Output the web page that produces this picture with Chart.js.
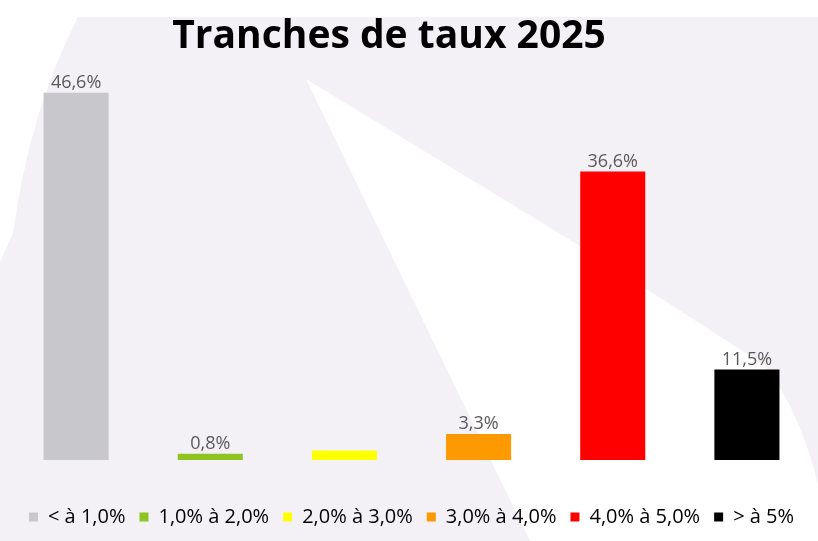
<!DOCTYPE html>
<html>
<head>
<meta charset="utf-8">
<script src="https://cdn.jsdelivr.net/npm/chart.js@4/dist/chart.umd.min.js"></script>
<style>
  html, body { margin: 0; padding: 0; background: #fff; }
  #wrap { width: 818px; height: 541px; }
</style>
</head>
<body>
<div id="wrap"><canvas id="chart" width="818" height="541"></canvas></div>
<script>
const chartTitle = "Tranches de taux 2025";
const categories = ["< à 1,0%", "1,0% à 2,0%", "2,0% à 3,0%", "3,0% à 4,0%", "4,0% à 5,0%", "> à 5%"];
const values = [46.6, 0.8, 1.2, 3.3, 36.6, 11.5];
const valueLabels = ["46,6%", "0,8%", "", "3,3%", "36,6%", "11,5%"];
const barColors = ["#c8c7cc", "#8fc31f", "#ffff00", "#ff9900", "#ff0000", "#000000"];

// lavender backdrop with the pale white wedges of the slide
const backdrop = {
  id: "backdrop",
  beforeDraw(chart) {
    const c = chart.ctx, w = chart.width, h = chart.height;
    c.save();
    c.fillStyle = "#f4f1f6";
    c.fillRect(0, 0, w, h);
    c.fillStyle = "#ffffff";
    c.fillRect(0, 0, w, 17);
    // big wedge
    c.beginPath();
    c.moveTo(306, 79);
    c.lineTo(580, 246);
    c.lineTo(764, 365);
    c.quadraticCurveTo(800, 410, 818, 485);
    c.lineTo(818, 541);
    c.lineTo(530, 541);
    c.closePath();
    c.fill();
    // left sliver
    c.beginPath();
    c.moveTo(0, 17);
    c.lineTo(78, 17);
    c.quadraticCurveTo(30, 110, 13, 233);
    c.lineTo(0, 262);
    c.closePath();
    c.fill();
    c.restore();
  }
};

// title and value labels
const texts = {
  id: "texts",
  afterDatasetsDraw(chart) {
    const c = chart.ctx;
    c.save();
    c.fillStyle = "#000000";
    c.font = "bold 39px 'Open Sans'";
    c.textAlign = "center";
    c.textBaseline = "alphabetic";
    c.fillText(chartTitle, 389, 48);

    c.font = "18px 'Open Sans'";
    c.fillStyle = "#595959";
    c.textBaseline = "bottom";
    chart.getDatasetMeta(0).data.forEach((bar, i) => {
      if (valueLabels[i]) c.fillText(valueLabels[i], bar.x, bar.y - 1);
    });
    c.restore();
  }
};

new Chart(document.getElementById("chart"), {
  type: "bar",
  data: {
    labels: categories,
    datasets: [{
      label: chartTitle,
      data: values,
      backgroundColor: barColors,
      categoryPercentage: 1,
      barPercentage: 0.485
    }]
  },
  options: {
    responsive: false,
    animation: false,
    layout: { padding: { left: 9, right: 4, top: 66, bottom: 4 } },
    scales: {
      x: {
        grid: { display: false },
        border: { display: false },
        ticks: { display: false },
        // empty title only keeps the gap between bars and legend
        title: { display: true, text: " ", font: { size: 10, lineHeight: 1 }, padding: { top: 15, bottom: 0 } }
      },
      y: { display: false, min: 0, max: 50 }
    },
    plugins: {
      title: { display: false },
      legend: {
        position: "bottom",
        labels: {
          boxWidth: 9,
          boxHeight: 9,
          padding: 14,
          color: "#555555",
          font: { family: "'Liberation Sans Narrow', 'Open Sans'", size: 20 },
          generateLabels: () => categories.map((name, i) => ({
            text: name,
            fillStyle: barColors[i],
            strokeStyle: barColors[i],
            lineWidth: 0,
            index: i
          }))
        }
      },
      tooltip: { enabled: false }
    }
  },
  plugins: [backdrop, texts]
});
</script>
</body>
</html>
